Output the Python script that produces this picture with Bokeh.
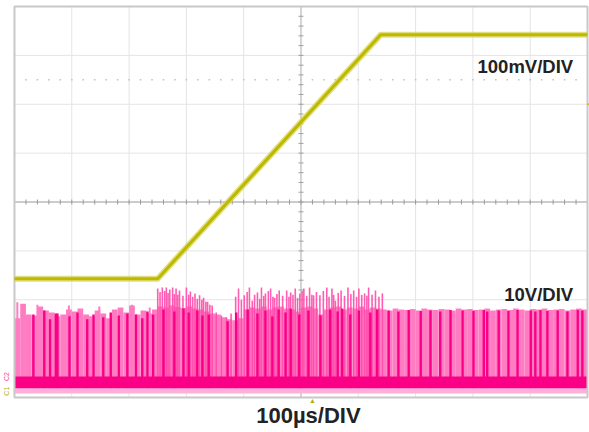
import numpy as np
from bokeh.plotting import figure
from bokeh.models import Label
from bokeh.embed import file_html
from bokeh.resources import INLINE

# ---------------- data (read from the scope capture) ----------------
# time base 100 us/div, 10 divisions; vertical 8 divisions
US_PER_DIV = 100.0
MV_PER_DIV = 100.0   # CH1
V_PER_DIV = 10.0     # CH2

# CH1 (yellow) output voltage, mV
ch1_time_us = [0, 250, 639, 1000]
ch1_mv = [243, 243, 742, 742]

# CH2 (pink) switching node, V
ch2_base_lo_v = 1.9
ch2_base_hi_v = 4.3
ch2_noise_lo_v = 0.8

fill_start_us = [0, 10, 20, 30, 40, 50, 60, 70, 80, 90, 100, 110, 120, 130, 140, 150, 160, 170, 180, 190,
                 200, 210, 220, 230, 240, 250, 260, 270, 280, 290, 300, 310, 320, 330, 340, 350, 360, 370, 380, 390,
                 400, 410, 420, 430, 440, 450, 460, 470, 480, 490, 500, 510, 520, 530, 540, 550, 560, 570, 580, 590,
                 600, 610, 620, 630, 640, 650, 660, 670, 680, 690, 700, 710, 720, 730, 740, 750, 760, 770, 780, 790,
                 800, 810, 820, 830, 840, 850, 860, 870, 880, 890, 900, 910, 920, 930, 940, 950, 960, 970, 980, 990]
fill_top_v = [16.2, 19.2, 17.0, 16.8, 18.6, 17.8, 17.4, 16.6, 17.0, 18.0, 17.6, 18.2, 17.0, 16.6, 17.8, 17.2, 16.2, 18.0, 18.4, 17.4,
              18.8, 17.0, 17.8, 17.2, 18.0,
              18.6, 18.4, 18.8, 18.5, 18.3, 18.6, 18.2, 18.0, 17.6, 17.2, 17.0, 16.4, 16.0, 15.8, 16.2, 18.0, 18.4, 18.2, 18.6, 18.0,
              18.4, 18.6, 18.2, 18.0, 17.6, 18.4, 18.6, 18.2, 17.0, 18.0, 18.4, 18.6, 18.0, 18.4, 18.2, 18.6, 18.0, 18.4, 18.2,
              18.0, 17.8, 18.2, 18.0, 17.9, 18.1, 17.8, 18.2, 18.0, 17.9, 18.1, 18.0, 17.8, 18.2, 18.0, 18.1, 17.9, 18.0, 18.2, 17.8,
              18.0, 18.1, 17.9, 18.2, 18.0, 17.8, 18.1, 18.0, 18.2, 17.9, 18.0, 18.1, 17.8, 18.0, 18.2, 18.0]

tall_us = [250, 254, 258, 262, 265, 268, 271, 276, 279, 282, 285, 288, 294, 300, 304, 307, 311, 315, 319, 323,
           327, 330, 334, 337, 341, 345, 352, 361, 370, 378, 386, 391, 396, 401, 406, 410, 415, 419, 424, 428,
           431, 435, 438, 443, 447, 451, 454, 458, 462, 468, 475, 479, 482, 486, 490, 494, 498, 502, 505, 510,
           515, 519, 522, 527, 533, 539, 545, 549, 554, 557, 560, 565, 570, 576, 582, 587, 592, 597, 601, 606,
           611, 615, 618, 624, 630, 636, 642]
tall_top_v = [22.3, 21.6, 22.5, 21.8, 22.5, 21.4, 22.1, 22.5, 21.2, 22.3, 21.0, 21.9, 20.8, 22.5, 21.0, 21.7, 20.6, 21.3, 20.2, 20.9,
              20.0, 20.4, 19.6, 19.6, 19.0, 18.8, 17.4, 16.8, 16.4, 17.2, 20.6, 22.3, 20.0, 20.9, 21.6, 22.5, 19.8, 21.0, 21.5, 20.2,
              22.5, 20.8, 21.3, 21.8, 22.3, 20.6, 20.4, 21.2, 21.9, 20.8, 21.9, 20.6, 21.5, 21.0, 22.3, 20.4, 21.3, 21.8, 22.3, 20.8,
              22.5, 21.0, 20.9, 21.6, 20.9, 21.8, 22.5, 20.6, 22.3, 21.0, 19.8, 21.4, 21.9, 20.8, 22.5, 21.2, 21.9, 20.6, 22.3, 21.0,
              21.3, 20.8, 22.5, 21.0, 21.9, 20.6, 21.3]

dark_us = [33, 52, 62, 72, 75, 96, 110, 127, 138, 155, 168, 182, 197, 212, 223, 232, 242,
           260, 279, 295, 304, 319, 328, 339, 372, 387, 407, 424, 438, 450, 461, 473, 482, 497, 513, 534, 551, 564, 572,
           586, 601, 621, 633,
           653, 670, 688, 709, 726, 743, 761, 782, 801, 819, 825, 845, 862, 878, 901, 909, 918, 930, 948, 965, 983, 991]
dark_top_v = [17.0, 17.8, 16.0, 17.2, 17.2, 16.6, 17.4, 16.0, 17.0, 16.4, 17.4, 16.8, 17.2, 17.0, 16.2, 17.6, 17.0,
              18.0, 17.6, 18.2, 17.4, 17.8, 16.8, 17.0, 15.6, 17.4, 18.0, 17.2, 17.8, 16.6, 18.0, 17.4, 18.2, 17.0, 17.8,
              16.8, 18.0, 17.6, 18.2, 17.0, 17.8, 17.4, 18.0,
              17.8, 17.6, 17.9, 17.7, 17.8, 17.6, 17.9, 17.8, 17.7, 17.9, 17.6, 17.8, 17.7, 17.9, 17.8, 17.6, 17.9, 17.7,
              17.8, 17.6, 17.9, 17.8]

spike_us = [5, 40, 95, 148, 205, 236]
spike_top_v = [19.5, 19.0, 18.8, 18.6, 19.0, 18.4]

scale_labels = ["100mV/DIV", "10V/DIV", "100\u00b5s/DIV"]

# ---------------- figure ----------------
# the frame covers the whole canvas; the graticule (0..1000 us, 0..8 div) is drawn inside it
p = figure(width=589, height=432, x_range=(-24.4, 1003.5), y_range=(-0.716, 8.123),
           x_axis_type=None, y_axis_type=None, toolbar_location=None,
           output_backend="svg", min_border=0)
p.background_fill_color = "white"
p.border_fill_color = "white"
p.outline_line_color = None
p.xgrid.visible = False
p.ygrid.visible = False

div_x = [i * US_PER_DIV for i in range(11)]
div_y = list(range(9))
p.segment(x0=div_x, y0=0, x1=div_x, y1=8, line_color="#e4e4e4", line_width=1)
p.segment(x0=0, y0=div_y, x1=1000, y1=div_y, line_color="#e4e4e4", line_width=1)

# center cross with minor ticks
p.segment(x0=[0], y0=[4], x1=[1000], y1=[4], line_color="#a6a6a6", line_width=1)
p.segment(x0=[500], y0=[0], x1=[500], y1=[8], line_color="#b8b8b8", line_width=1)
mx = np.arange(20, 1000, 20)
my = np.arange(0.2, 8, 0.2)
p.scatter(mx, np.full(len(mx), 4.0), marker="dash", angle=np.pi / 2, size=5, line_color="#9a9a9a", line_width=1)
p.scatter(np.full(len(my), 500.0), my, marker="dash", size=5, line_color="#a0a0a0", line_width=1)
# dotted reference line
p.scatter(mx, np.full(len(mx), 6.5), marker="square", size=1.6, fill_color="#c4c4c4", line_color=None)

# ---------------- CH2 pink ----------------
fs = np.array(fill_start_us, dtype=float)
p.quad(left=fs, right=fs + 10, bottom=ch2_base_lo_v / V_PER_DIV,
       top=np.array(fill_top_v) / V_PER_DIV, fill_color="#ff7cc3", line_color=None)
p.segment(x0=spike_us, x1=spike_us, y0=ch2_base_lo_v / V_PER_DIV, y1=np.array(spike_top_v) / V_PER_DIV,
          line_color="#ff7cc3", line_width=2)
p.segment(x0=tall_us, x1=tall_us, y0=ch2_base_lo_v / V_PER_DIV, y1=np.array(tall_top_v) / V_PER_DIV,
          line_color="#ff4aab", line_width=1.6, line_alpha=0.9)
p.segment(x0=dark_us, x1=dark_us, y0=ch2_base_lo_v / V_PER_DIV, y1=np.array(dark_top_v) / V_PER_DIV,
          line_color="#fa0086", line_width=2.4)
p.quad(left=[0], right=[1000], bottom=[ch2_noise_lo_v / V_PER_DIV], top=[ch2_base_lo_v / V_PER_DIV],
       fill_color="#ffb0d8", line_color=None)
p.quad(left=[0], right=[1000], bottom=[ch2_base_lo_v / V_PER_DIV], top=[ch2_base_hi_v / V_PER_DIV],
       fill_color="#fa0086", line_color=None)

# graticule border
p.quad(left=[0], right=[1000], bottom=[0], top=[8], fill_color=None, line_color="#c8c8c8", line_width=2)

# ---------------- CH1 yellow ----------------
ch1_div = np.array(ch1_mv) / MV_PER_DIV
p.line(ch1_time_us, ch1_div, line_color="#d8d455", line_width=6, line_alpha=0.75, line_join="round")
p.line(ch1_time_us, ch1_div, line_color="#bdb800", line_width=3, line_join="round")
# CH1 level marker at the right edge
p.segment(x0=[1000], y0=[6.0], x1=[1003.5], y1=[6.0], line_color="#c8c400", line_width=2)

# ---------------- texts ----------------
font = "Liberation Sans"
p.add_layout(Label(x=975, y=6.78, text=scale_labels[0], text_font=font, text_font_style="bold",
                   text_font_size="18.5px", text_color="#222222", text_align="right", text_baseline="alphabetic"))
p.add_layout(Label(x=975, y=2.11, text=scale_labels[1], text_font=font, text_font_style="bold",
                   text_font_size="18.5px", text_color="#222222", text_align="right", text_baseline="alphabetic"))
p.add_layout(Label(x=513, y=-0.37, text=scale_labels[2], text_font=font, text_font_style="bold",
                   text_font_size="22px", text_color="#222222", text_align="center", text_baseline="alphabetic"))
# trigger position marker and channel markers
p.add_layout(Label(x=520, y=-0.07, text="\u25b2", text_font=font, text_font_size="7px",
                   text_color="#b5b000", text_align="center", text_baseline="middle"))
p.add_layout(Label(x=-14, y=0.43, text="C2", text_font=font, text_font_size="7px", angle=np.pi / 2,
                   text_color="#ff3fa0", text_align="center", text_baseline="middle"))
p.add_layout(Label(x=-14, y=0.13, text="C1", text_font=font, text_font_size="7px", angle=np.pi / 2,
                   text_color="#b5b000", text_align="center", text_baseline="middle"))

open("out.html", "w").write(file_html(p, INLINE))
